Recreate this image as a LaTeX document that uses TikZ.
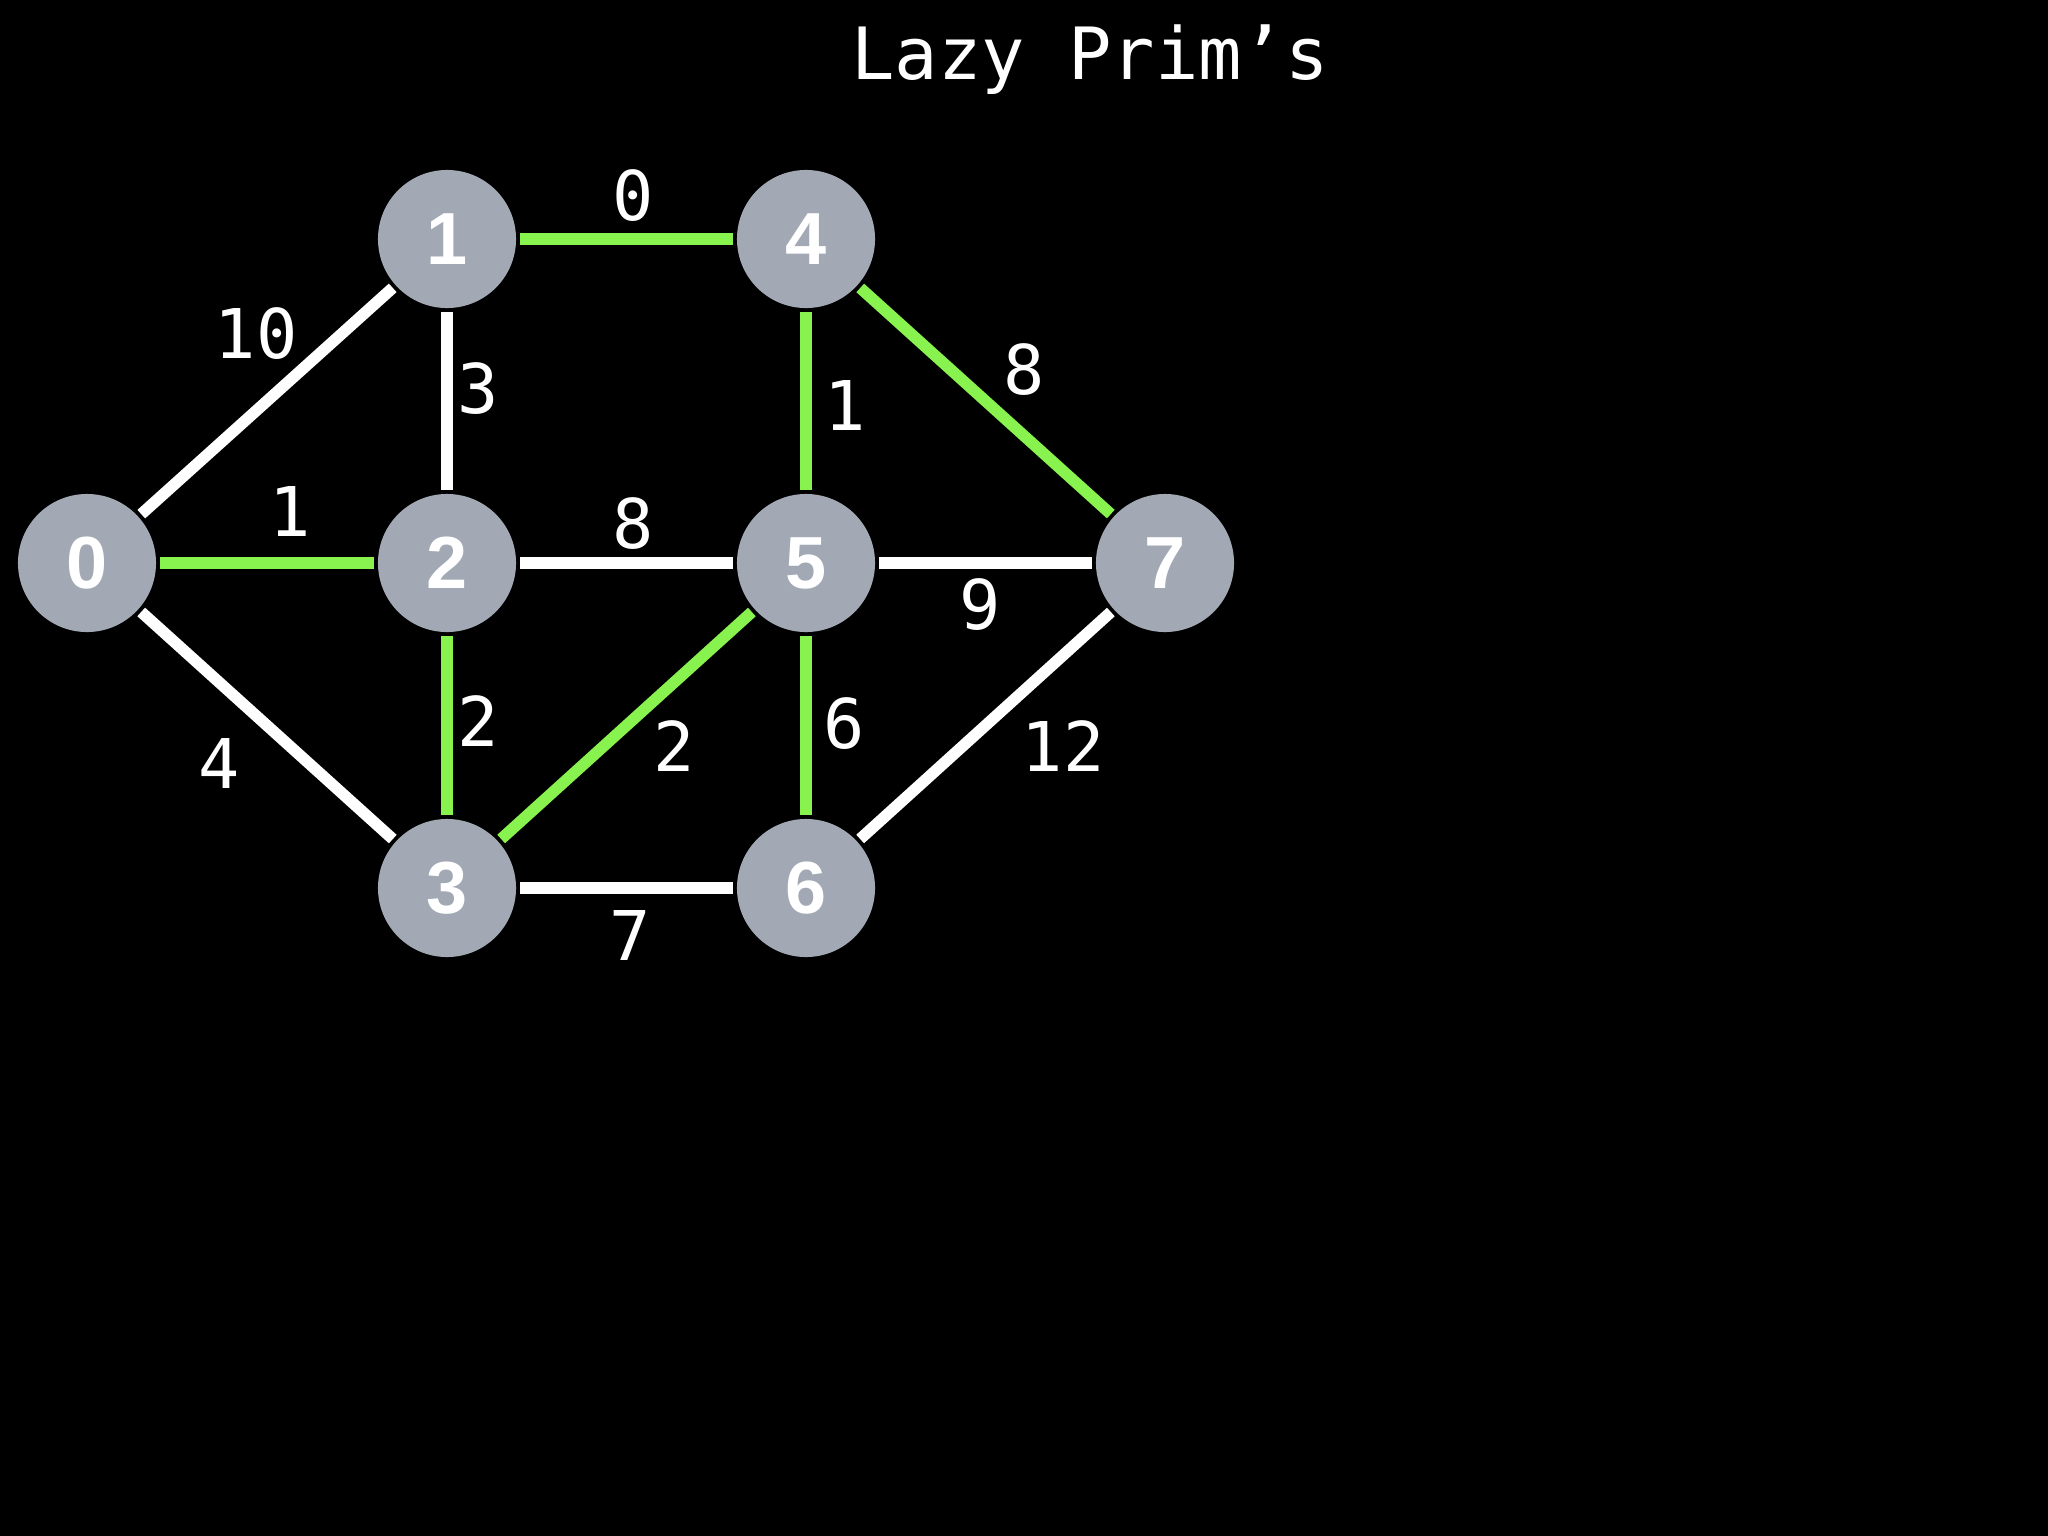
\documentclass[tikz,border=0pt]{standalone}
\usepackage{fontspec}
\setsansfont{Liberation Sans}
\setmonofont{DejaVu Sans Mono}
\usetikzlibrary{positioning}
\definecolor{vertexgray}{HTML}{A2A9B4}
\definecolor{mstgreen}{HTML}{88F34E}
\tikzset{
  vertex/.style={circle,fill=vertexgray,minimum size=1.38cm,inner sep=0pt,
    outer sep=0.04cm,text=white,font=\sffamily\bfseries\fontsize{21}{21}\selectfont},
  plainedge/.style={draw=white,line width=0.115cm},
  treeedge/.style={draw=mstgreen,line width=0.115cm},
  weight/.style={text=white,inner sep=0pt,font=\ttfamily\fontsize{19.5}{20}\selectfont}
}

\begin{document}
\begin{tikzpicture}[x=0.01cm,y=-0.01cm]
\fill[black] (0,0) rectangle (2048,1536);
\useasboundingbox (0,0) rectangle (2048,1536);
\node[weight,font=\ttfamily\fontsize{20.5}{21}\selectfont] (title) at (1090,60) {Lazy Prim’s};
% vertices
\node[vertex] (v0) at (87,563) {0};
\node[vertex] (v1) at (447,239) {1};
\node[vertex] (v2) at (447,563) {2};
\node[vertex] (v3) at (447,888) {3};
\node[vertex] (v4) at (806,239) {4};
\node[vertex] (v5) at (806,563) {5};
\node[vertex] (v6) at (806,888) {6};
\node[vertex] (v7) at (1165,563) {7};
% edges
\draw[treeedge] (v1) -- (v4);
\draw[treeedge] (v4) -- (v5);
\draw[treeedge] (v4) -- (v7);
\draw[treeedge] (v0) -- (v2);
\draw[treeedge] (v2) -- (v3);
\draw[treeedge] (v3) -- (v5);
\draw[treeedge] (v5) -- (v6);
\draw[plainedge] (v0) -- (v1);
\draw[plainedge] (v1) -- (v2);
\draw[plainedge] (v2) -- (v5);
\draw[plainedge] (v5) -- (v7);
\draw[plainedge] (v0) -- (v3);
\draw[plainedge] (v3) -- (v6);
\draw[plainedge] (v6) -- (v7);
% weights
\node[weight] (w14) at (633,196) {0};
\node[weight] (w01) at (256,334) {10};
\node[weight] (w12) at (478,389) {3};
\node[weight] (w02) at (290,511) {1};
\node[weight] (w25) at (633,524) {8};
\node[weight] (w45) at (845,405) {1};
\node[weight] (w47) at (1024,370) {8};
\node[weight] (w57) at (980,605) {9};
\node[weight] (w23) at (478,721) {2};
\node[weight] (w35) at (674,746) {2};
\node[weight] (w56) at (844,724) {6};
\node[weight] (w67) at (1063,746) {12};
\node[weight] (w03) at (219,763) {4};
\node[weight] (w36) at (630,935) {7};
\end{tikzpicture}
\end{document}
